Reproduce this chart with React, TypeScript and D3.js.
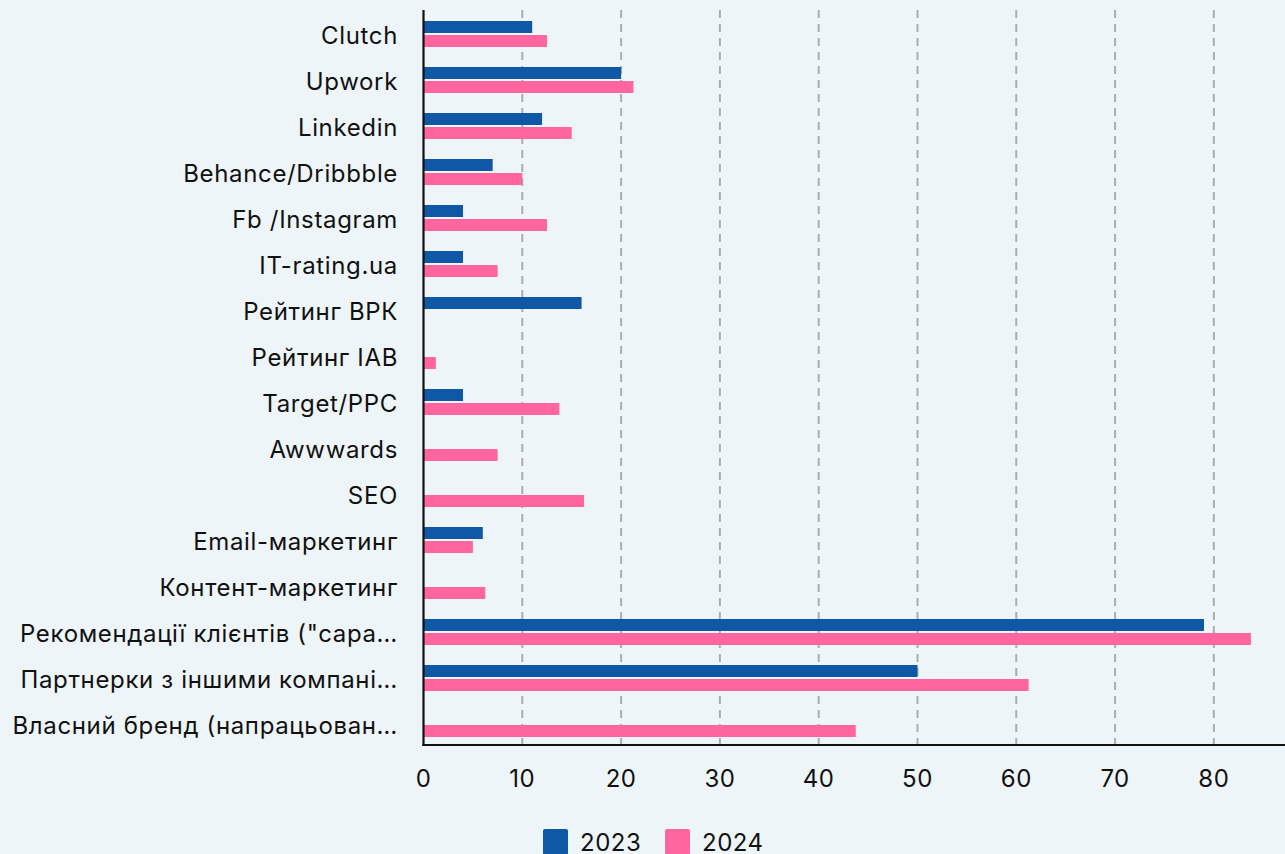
import React from "react";
import * as d3 from "d3";

const categories = [
  "Clutch",
  "Upwork",
  "Linkedin",
  "Behance/Dribbble",
  "Fb /Instagram",
  "IT-rating.ua",
  "Рейтинг ВРК",
  "Рейтинг IAB",
  "Target/PPC",
  "Awwwards",
  "SEO",
  "Email-маркетинг",
  "Контент-маркетинг",
  "Рекомендації клієнтів (\"сара…",
  "Партнерки з іншими компані…",
  "Власний бренд (напрацьован…",
];
const values2023 = [11, 20, 12, 7, 4, 4, 16, 0, 4, 0, 0, 6, 0, 79, 50, 0];
const values2024 = [12.5, 21.25, 15, 10, 12.5, 7.5, 0, 1.25, 13.75, 7.5, 16.25, 5, 6.25, 83.75, 61.25, 43.75];
const seriesNames = ["2023", "2024"];
const seriesColors = ["#0E58A5", "#FF659F"];
const xTicks = [0, 10, 20, 30, 40, 50, 60, 70, 80];

const W = 1285;
const H = 854;
const FONT = "Inter, 'Noto Sans', sans-serif";

export default function App() {
  const left = 423.5;
  const right = 1285;
  const top = 11;
  const bottom = 747;
  const axisY = 745;

  const x = d3.scaleLinear().domain([0, 87.2]).range([left, right]);
  const y0 = d3.scaleBand<string>().domain(categories).range([top, bottom]).padding(0);
  const y1 = d3
    .scaleBand<string>()
    .domain(seriesNames)
    .range([y0.bandwidth() / 2 - 13, y0.bandwidth() / 2 + 13])
    .paddingInner(2 / 14)
    .paddingOuter(0);

  const series = [values2023, values2024];

  return (
    <div style={{ position: "absolute", left: 0, top: 0, width: W, height: H, overflow: "hidden" }}>
      <svg width={W} height={H} style={{ display: "block", background: "#EEF5F8" }} fontFamily={FONT}>
        <rect x={0} y={0} width={W} height={H} fill="#EEF5F8" />
        {/* grid */}
        {xTicks
          .filter((t) => t !== 0)
          .map((t) => (
            <line
              key={"g" + t}
              x1={x(t)}
              x2={x(t)}
              y1={10}
              y2={axisY}
              stroke="#A9ADB0"
              strokeWidth={2}
              strokeDasharray="8,6"
            />
          ))}
        {/* bars */}
        {categories.map((c, i) => (
          <g key={c} transform={`translate(0,${y0(c)})`}>
            {series.map((vals, si) =>
              vals[i] > 0 ? (
                <rect
                  key={si}
                  x={x(0)}
                  y={y1(seriesNames[si])}
                  width={x(vals[i]) - x(0)}
                  height={y1.bandwidth()}
                  fill={seriesColors[si]}
                />
              ) : null
            )}
          </g>
        ))}
        {/* axes */}
        <line x1={left} x2={left} y1={10} y2={axisY + 1} stroke="#111" strokeWidth={2.2} />
        <line x1={left - 1} x2={W} y1={axisY} y2={axisY} stroke="#111" strokeWidth={2.2} />
        {/* category labels */}
        {categories.map((c) => (
          <text
            key={"l" + c}
            x={398}
            y={(y0(c) as number) + y0.bandwidth() / 2 + 2}
            dy="0.35em"
            textAnchor="end"
            fontSize={24}
            letterSpacing={0.65}
            fill="#111"
          >
            {c}
          </text>
        ))}
        {/* x tick labels */}
        {xTicks.map((t) => (
          <text key={"t" + t} x={x(t)} y={787} textAnchor="middle" fontSize={24} letterSpacing={0.5} fill="#111">
            {t}
          </text>
        ))}
        {/* legend */}
        {seriesNames.map((s, i) => {
          const lx = [543, 665][i];
          return (
            <g key={"lg" + s}>
              <rect x={lx} y={829} width={25} height={26} rx={2} fill={seriesColors[i]} />
              <text x={lx + 37} y={851} fontSize={24} letterSpacing={0.5} fill="#111">
                {s}
              </text>
            </g>
          );
        })}
      </svg>
    </div>
  );
}
